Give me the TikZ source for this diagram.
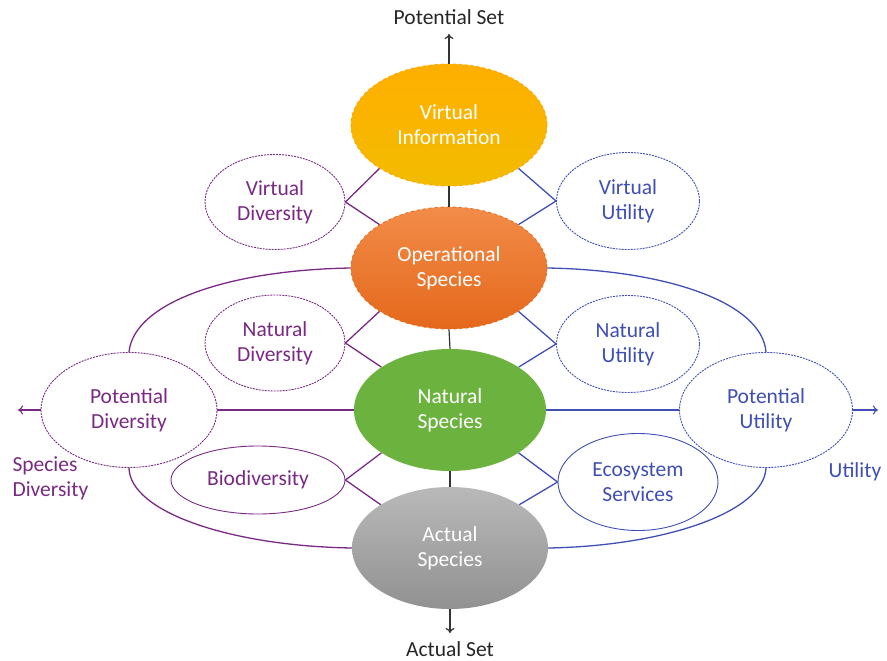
\documentclass[tikz,border=0pt]{standalone}
\usepackage{fontspec}
\setmainfont{Carlito}
\usetikzlibrary{shapes.geometric,arrows.meta}
\definecolor{divc}{HTML}{7A2A84}
\definecolor{utic}{HTML}{3F4FB3}
\definecolor{axisc}{HTML}{333333}
\begin{document}
\begin{tikzpicture}[x=1pt,y=-1pt,
  txt/.style={font=\fontsize{21.5}{25}\selectfont, align=center},
  core/.style={ellipse, txt, text=white, inner sep=0pt, minimum width=196pt, minimum height=122pt},
  side/.style={ellipse, txt, inner sep=0pt, line width=0.9pt, fill=white},
  dotted edge/.style={dash pattern=on 2pt off 1pt},
  divlink/.style={draw=divc, line width=1.3pt},
  utilink/.style={draw=utic, line width=1.3pt},
  axislink/.style={draw=axisc, line width=1.2pt},
  tip/.style={-{To[length=5pt,width=9pt]}}
]
\useasboundingbox (0,0) rectangle (887,661);

% central column
\node[core, top color=yellow!10!orange!70!yellow, bottom color=orange!45!yellow!95!black,
      draw=orange!70!yellow, dashed, line width=0.9pt] (VI) at (449,125) {Virtual\\Information};
\node[core, top color={rgb,255:red,242;green,140;blue,72}, bottom color={rgb,255:red,228;green,104;blue,28},
      draw={rgb,255:red,230;green,110;blue,35}, dashed, line width=0.9pt] (OS) at (449,268) {Operational\\Species};
\node[core, fill={rgb,255:red,108;green,178;blue,62}, minimum width=192pt] (NS) at (450,410) {Natural\\Species};
\node[core, top color={rgb,255:red,185;green,185;blue,185}, bottom color={rgb,255:red,145;green,145;blue,145},
      minimum width=196pt] (AS) at (450,548) {Actual\\Species};

% axis between the central sets
\draw[axislink] (VI.south) -- (OS.north);
\draw[axislink] (OS.south) -- (NS.north);
\draw[axislink] (NS.south) -- (AS.north);
\coordinate (top) at (449,34);
\coordinate (bot) at (450,633);
\draw[axislink, tip] (VI.north) -- (top);
\draw[axislink, tip] (AS.south) -- (bot);
\node[txt, text=black!85] (potset) at (449,17) {Potential Set};
\node[txt, text=black!85] (actset) at (450,649) {Actual Set};

% diversity side
\node[side, text=divc, draw=divc, dotted edge, minimum width=140pt, minimum height=95pt] (VD) at (275,202) {Virtual\\Diversity};
\node[side, text=divc, draw=divc, dotted edge, minimum width=140pt, minimum height=96pt] (ND) at (275,343) {Natural\\Diversity};
\node[side, text=divc, draw=divc, minimum width=174pt, minimum height=68pt] (BD) at (258,480) {Biodiversity};
\node[side, text=divc, draw=divc, dotted edge, minimum width=176pt, minimum height=115pt] (PD) at (129,410) {Potential\\Diversity};

% utility side
\node[side, text=utic, draw=utic, dotted edge, minimum width=143pt, minimum height=97pt] (VU) at (628,201) {Virtual\\Utility};
\node[side, text=utic, draw=utic, dotted edge, minimum width=143pt, minimum height=97pt] (NU) at (628,344) {Natural\\Utility};
\node[side, text=utic, draw=utic, minimum width=160pt, minimum height=97pt] (ES) at (638,482) {Ecosystem\\Services};
\node[side, text=utic, draw=utic, dotted edge, minimum width=173pt, minimum height=115pt] (PU) at (766,410) {Potential\\Utility};

% diversity links
\draw[divlink] (VD.east) -- (VI.212);
\draw[divlink] (VD.east) -- (OS.148);
\draw[divlink] (ND.east) -- (OS.212);
\draw[divlink] (ND.east) -- (NS.148);
\draw[divlink] (BD.east) -- (NS.212);
\draw[divlink] (BD.east) -- (AS.148);
\draw[divlink] (PD.east) -- (NS.west);
\draw[divlink] (PD.north) .. controls (134,302) and (230,270) .. (OS.west);
\draw[divlink] (PD.south) .. controls (130,512) and (230,546) .. (AS.west);
\coordinate (divend) at (18,410);
\draw[divlink, line width=1.1pt, tip] (PD.west) -- (divend);
\node[txt, text=divc, align=left, anchor=west] (divlabel) at (9,478) {Species\\Diversity};

% utility links
\draw[utilink] (VU.west) -- (VI.328);
\draw[utilink] (VU.west) -- (OS.32);
\draw[utilink] (NU.west) -- (OS.328);
\draw[utilink] (NU.west) -- (NS.32);
\draw[utilink] (ES.west) -- (NS.328);
\draw[utilink] (ES.west) -- (AS.32);
\draw[utilink] (NS.east) -- (PU.west);
\draw[utilink] (PU.north) .. controls (762,302) and (665,270) .. (OS.east);
\draw[utilink] (PU.south) .. controls (764,512) and (665,546) .. (AS.east);
\coordinate (utiend) at (878,410);
\draw[utilink, line width=1.1pt, tip] (PU.east) -- (utiend);
\node[txt, text=utic] (utilabel) at (855,472) {Utility};
\end{tikzpicture}
\end{document}
